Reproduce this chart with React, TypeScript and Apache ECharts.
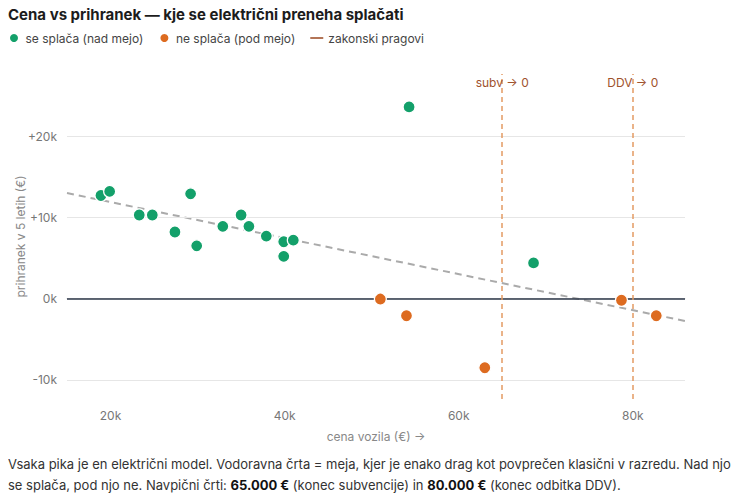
import React, { useEffect, useRef } from 'react';
import * as echarts from 'echarts';

// cena vozila (€) in prihranek v 5 letih (€), odčitano s slike
const aboveName = 'se splača (nad mejo)';
const abovePrice = [18900, 19900, 23300, 24800, 27400, 29200, 29900, 32900, 35000, 35900, 37900, 39900, 41000, 39900, 54300, 68600];
const aboveSaving = [12700, 13200, 10300, 10300, 8200, 12900, 6500, 8900, 10300, 8900, 7700, 7000, 7200, 5200, 23600, 4400];

const belowName = 'ne splača (pod mejo)';
const belowPrice = [51000, 54000, 63000, 78700, 82700];
const belowSaving = [-50, -2100, -8500, -200, -2100];

const thresholdName = 'zakonski pragovi';
const thresholdPrice = [65000, 80000];
const thresholdLabels = ['subv → 0', 'DDV → 0'];

const trendPrice = [15000, 86000];
const trendSaving = [13000, -2750];

const xRange = [15000, 86000];
const yRange = [-12350, 27650];
const yGridTicks = [-10000, 10000, 20000];

const GREEN = '#13a06a';
const ORANGE = '#dd6b20';
const BROWN = '#a0522d';
const FONT = 'Inter, "Noto Sans", sans-serif';

const fmtY = (v: number) => {
  if (v % 10000 !== 0) return '';
  if (v === 0) return '0k';
  return (v > 0 ? '+' : '') + v / 1000 + 'k';
};

const Chart: React.FC = () => {
  const chartRef = useRef<HTMLDivElement>(null);

  useEffect(() => {
    if (!chartRef.current) return undefined;
    const chart = echarts.init(chartRef.current, undefined, { renderer: 'svg' });

    const options: any = {
      animation: false,
      textStyle: { fontFamily: FONT },
      title: {
        text: 'Cena vs prihranek — kje se električni preneha splačati',
        left: 0,
        top: 4,
        padding: 0,
        textStyle: { fontSize: 15, fontWeight: 'bold', color: '#1c1c1c', lineHeight: 20, fontFamily: FONT },
      },
      legend: {
        left: 0,
        top: 32,
        padding: 0,
        itemWidth: 13,
        itemHeight: 10,
        itemGap: 15,
        textStyle: { fontSize: 12, color: '#444', fontFamily: FONT },
        data: [
          { name: aboveName, icon: 'circle' },
          { name: belowName, icon: 'circle' },
          { name: thresholdName, icon: 'path://M0 4.2h13v1.6H0z' },
        ],
      },
      grid: { left: 59, right: 58, top: 74, bottom: 55, containLabel: false, outerBoundsMode: 'none' },
      xAxis: {
        type: 'value',
        min: xRange[0],
        max: xRange[1],
        splitNumber: 3,
        name: 'cena vozila (€) →',
        nameLocation: 'middle',
        nameGap: 31,
        nameMoveOverlap: false,
        nameTextStyle: { color: '#888', fontSize: 12 },
        axisLine: { show: true, lineStyle: { color: '#ddd' } },
        axisTick: { show: false },
        splitLine: { show: false },
        axisLabel: {
          color: '#777',
          fontSize: 12,
          margin: 10,
          showMinLabel: false,
          showMaxLabel: false,
          formatter: (v: number) => (v % 20000 === 0 ? v / 1000 + 'k' : ''),
        },
      },
      yAxis: {
        type: 'value',
        min: yRange[0],
        max: yRange[1],
        splitNumber: 4,
        name: 'prihranek v 5 letih (€)',
        nameLocation: 'middle',
        nameGap: 41,
        nameMoveOverlap: false,
        nameTextStyle: { color: '#888', fontSize: 12 },
        axisLine: { show: false },
        axisTick: { show: false },
        splitLine: { show: false },
        axisLabel: {
          color: '#777',
          fontSize: 12,
          margin: 10,
          showMinLabel: false,
          showMaxLabel: false,
          formatter: fmtY,
        },
      },
      series: [
        {
          name: 'mreža',
          type: 'line',
          data: [],
          z: 1,
          silent: true,
          markLine: {
            silent: true,
            symbol: 'none',
            label: { show: false },
            lineStyle: { color: '#e6e6e6', type: 'solid', width: 1 },
            data: [
              ...yGridTicks.map((v) => ({ yAxis: v })),
              { yAxis: 0, lineStyle: { color: '#2d3748', width: 1.5, type: 'solid' } },
            ],
          },
        },
        {
          name: 'trend',
          type: 'line',
          data: trendPrice.map((x, i) => [x, trendSaving[i]]),
          showSymbol: false,
          silent: true,
          z: 2,
          lineStyle: { color: '#aaaaaa', width: 2, type: [7, 5] },
        },
        {
          name: thresholdName,
          type: 'line',
          data: [],
          color: BROWN,
          z: 3,
          markLine: {
            silent: true,
            symbol: 'none',
            lineStyle: { color: '#e39a63', width: 1.5, type: [5, 4] },
            label: {
              position: 'end',
              color: BROWN,
              fontSize: 12,
              distance: 0,
              offset: [0, 14],
            },
            data: thresholdPrice.map((x, i) => ({
              xAxis: x,
              label: { formatter: thresholdLabels[i] },
            })),
          },
        },
        {
          name: aboveName,
          type: 'scatter',
          data: abovePrice.map((x, i) => [x, aboveSaving[i]]),
          symbolSize: 12,
          color: GREEN,
          z: 5,
          itemStyle: { color: GREEN, borderColor: '#fff', borderWidth: 1.2, opacity: 1 },
        },
        {
          name: belowName,
          type: 'scatter',
          data: belowPrice.map((x, i) => [x, belowSaving[i]]),
          symbolSize: 12,
          color: ORANGE,
          z: 5,
          itemStyle: { color: ORANGE, borderColor: '#fff', borderWidth: 1.2, opacity: 1 },
        },
      ],
    };
    chart.setOption(options);

    return () => {
      chart.dispose();
    };
  }, []);

  return <div ref={chartRef} style={{ width: '735px', height: '454px', marginTop: '-8px' }} />;
};

const App: React.FC = () => (
  <div>
    <Chart />
    <div style={{ fontFamily: FONT, fontSize: 13, lineHeight: '21px', color: '#333', whiteSpace: 'nowrap' }}>
      Vsaka pika je en električni model. Vodoravna črta = meja, kjer je enako drag kot povprečen klasični v razredu. Nad njo
      <br />
      se splača, pod njo ne. Navpični črti: <b style={{ color: '#111' }}>65.000 €</b> (konec subvencije) in{' '}
      <b style={{ color: '#111' }}>80.000 €</b> (konec odbitka DDV).
    </div>
  </div>
);

export default App;
